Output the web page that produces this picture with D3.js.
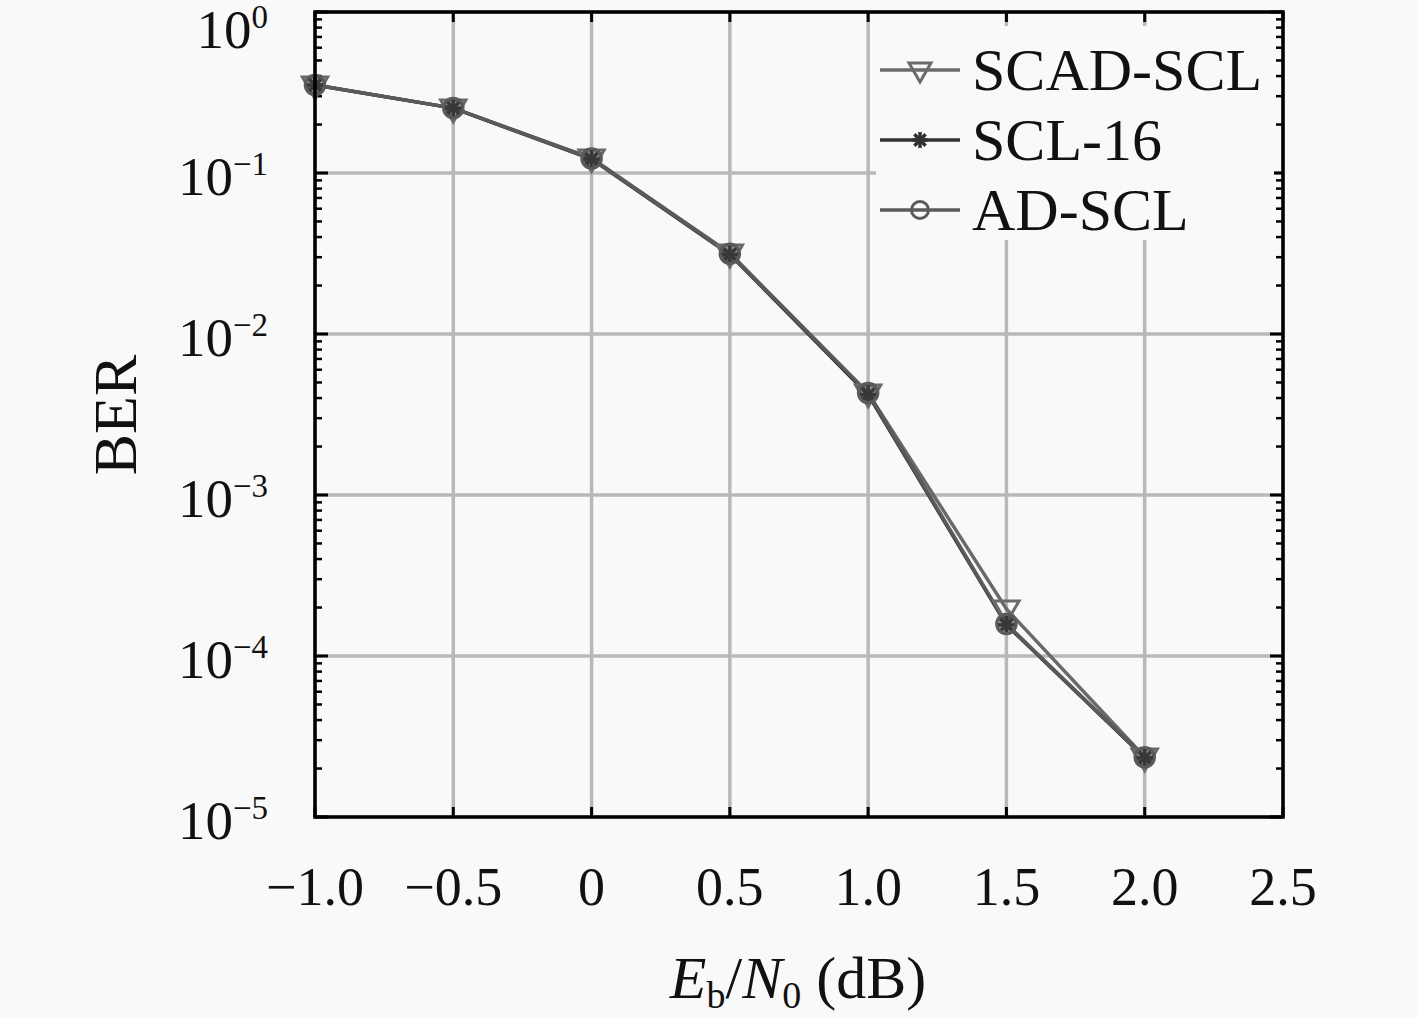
<!DOCTYPE html>
<html><head><meta charset="utf-8">
<script src="https://cdn.jsdelivr.net/npm/d3@7"></script>
<style>
html,body{margin:0;padding:0;background:#f9f9f9;}
svg{display:block;}
text{font-family:"Liberation Serif","DejaVu Serif",serif;fill:#111;}
</style></head>
<body>
<svg id="chart" width="1417" height="1018"></svg>
<script>
// ---- data ----
const snr = [-1.0, -0.5, 0, 0.5, 1.0, 1.5, 2.0];
const scadScl = [0.352, 0.253, 0.124, 0.0318, 0.0043, 1.96e-4, 2.36e-5];
const scl16   = [0.352, 0.253, 0.122, 0.0312, 0.0042, 1.56e-4, 2.33e-5];
const adScl   = [0.352, 0.253, 0.123, 0.0315, 0.0043, 1.58e-4, 2.35e-5];
const xTicks = [-1.0, -0.5, 0, 0.5, 1.0, 1.5, 2.0, 2.5];
const xTickLabels = ["\u22121.0", "\u22120.5", "0", "0.5", "1.0", "1.5", "2.0", "2.5"];
const yTicks = [1, 1e-1, 1e-2, 1e-3, 1e-4, 1e-5];
const yTickExponents = ["0", "\u22121", "\u22122", "\u22123", "\u22124", "\u22125"];
const seriesNames = ["SCAD-SCL", "SCL-16", "AD-SCL"];

const svg = d3.select("#chart");
const L = 315, R = 1283, T = 12, B = 817;
const x = d3.scaleLinear().domain([-1.0, 2.5]).range([L, R]);
const y = d3.scaleLog().domain([1e-5, 1]).range([B, T]);

svg.append("rect").attr("width", 1417).attr("height", 1018).attr("fill", "#f9f9f9");

// grid
const grid = svg.append("g");
grid.selectAll("line.vx").data(xTicks).join("line")
  .attr("x1", d => x(d)).attr("x2", d => x(d)).attr("y1", T).attr("y2", B)
  .attr("stroke", "#b8b8b8").attr("stroke-width", 3.5);
grid.selectAll("line.hy").data(yTicks).join("line")
  .attr("x1", L).attr("x2", R).attr("y1", d => y(d)).attr("y2", d => y(d))
  .attr("stroke", "#b8b8b8").attr("stroke-width", 3.5);

// minor y ticks
const minor = [];
for (let e = -5; e < 0; e++) for (let m = 2; m <= 9; m++) minor.push(m * Math.pow(10, e));
const tk = svg.append("g").attr("stroke", "#000");
tk.selectAll("line.ml").data(minor).join("line")
  .attr("x1", L).attr("x2", L + 7).attr("y1", d => y(d)).attr("y2", d => y(d)).attr("stroke-width", 2.5);
tk.selectAll("line.mr").data(minor).join("line")
  .attr("x1", R).attr("x2", R - 7).attr("y1", d => y(d)).attr("y2", d => y(d)).attr("stroke-width", 2.5);
tk.selectAll("line.Ml").data(yTicks).join("line")
  .attr("x1", L).attr("x2", L + 13).attr("y1", d => y(d)).attr("y2", d => y(d)).attr("stroke-width", 3);
tk.selectAll("line.Mr").data(yTicks).join("line")
  .attr("x1", R).attr("x2", R - 13).attr("y1", d => y(d)).attr("y2", d => y(d)).attr("stroke-width", 3);
tk.selectAll("line.Mb").data(xTicks).join("line")
  .attr("x1", d => x(d)).attr("x2", d => x(d)).attr("y1", B).attr("y2", B - 10).attr("stroke-width", 3);
tk.selectAll("line.Mt").data(xTicks).join("line")
  .attr("x1", d => x(d)).attr("x2", d => x(d)).attr("y1", T).attr("y2", T + 10).attr("stroke-width", 3);

// series
const line = d3.line().x(d => x(d[0])).y(d => y(d[1]));
const series = [
  {name: seriesNames[0], vals: scadScl, color: "#6a6a6a", marker: "tri"},
  {name: seriesNames[1], vals: scl16, color: "#333333", marker: "star"},
  {name: seriesNames[2], vals: adScl, color: "#5a5a5a", marker: "circ"}
];
function drawMarker(g, type, color, cx, cy, big) {
  const s = big ? 1.15 : 1;
  if (type === "tri") {
    g.append("path").attr("d", `M${cx-11*s},${cy-7*s} L${cx+11*s},${cy-7*s} L${cx},${cy+12*s} Z`)
      .attr("fill", "none").attr("stroke", color).attr("stroke-width", 3);
  } else if (type === "circ") {
    g.append("circle").attr("cx", cx).attr("cy", cy).attr("r", 8.5 * s)
      .attr("fill", big ? "rgba(60,60,60,0.55)" : "none").attr("stroke", color).attr("stroke-width", 3);
  } else {
    const r = 8 * s;
    for (let k = 0; k < 4; k++) {
      const a = k * Math.PI / 4;
      g.append("line").attr("x1", cx - r * Math.cos(a)).attr("y1", cy - r * Math.sin(a))
        .attr("x2", cx + r * Math.cos(a)).attr("y2", cy + r * Math.sin(a))
        .attr("stroke", color).attr("stroke-width", 3.5);
    }
  }
}
const sg = svg.append("g");
series.forEach(s => {
  const pts = snr.map((v, i) => [v, s.vals[i]]);
  sg.append("path").attr("d", line(pts)).attr("fill", "none")
    .attr("stroke", s.color).attr("stroke-width", 3.5);
});
series.forEach(s => {
  snr.forEach((v, i) => drawMarker(sg, s.marker, s.color, x(v), y(s.vals[i]), true));
});

// frame
svg.append("rect").attr("x", L).attr("y", T).attr("width", R - L).attr("height", B - T)
  .attr("fill", "none").attr("stroke", "#000").attr("stroke-width", 3.5);

// x tick labels
svg.append("g").selectAll("text").data(xTicks).join("text")
  .attr("x", d => x(d)).attr("y", 905).attr("text-anchor", "middle")
  .attr("font-size", 54).text((d, i) => xTickLabels[i]);

// y tick labels
const yl = svg.append("g");
yTicks.forEach((d, i) => {
  const cy = Math.max(y(d) + 4, 30);
  const t = yl.append("text").attr("x", 268).attr("y", cy + 18).attr("text-anchor", "end").attr("font-size", 55);
  t.append("tspan").text("10");
  t.append("tspan").attr("font-size", 33).attr("dy", -20).text(yTickExponents[i]);
});

// axis titles
svg.append("text").attr("transform", "translate(136,415) rotate(-90)")
  .attr("text-anchor", "middle").attr("font-size", 62).text("BER");
const xt = svg.append("text").attr("x", 798).attr("y", 998).attr("text-anchor", "middle").attr("font-size", 60);
xt.append("tspan").attr("font-style", "italic").text("E");
xt.append("tspan").attr("font-size", 38).attr("dy", 10).text("b");
xt.append("tspan").attr("dy", -10).text("/");
xt.append("tspan").attr("font-style", "italic").text("N");
xt.append("tspan").attr("font-size", 38).attr("dy", 10).text("0");
xt.append("tspan").attr("dy", -10).text(" (dB)");

// legend
const lg = svg.append("g");
lg.append("rect").attr("x", 876).attr("y", 26).attr("width", 398).attr("height", 214).attr("fill", "#f9f9f9");
series.forEach((s, i) => {
  const ly = 70 + i * 70;
  lg.append("line").attr("x1", 880).attr("x2", 960).attr("y1", ly).attr("y2", ly)
    .attr("stroke", s.color).attr("stroke-width", 3.5);
  drawMarker(lg, s.marker, s.color, 920, ly, false);
  lg.append("text").attr("x", 972).attr("y", ly + 20).attr("font-size", 60).text(s.name);
});
</script>
</body></html>
